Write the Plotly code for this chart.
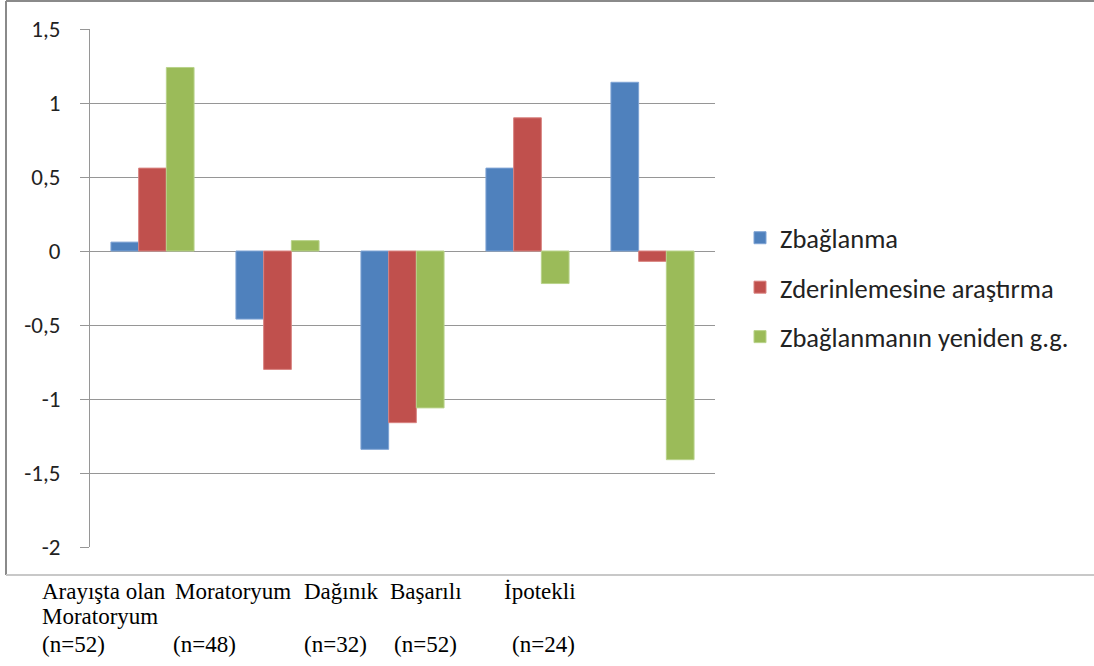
import plotly.graph_objects as go

# ---------------- data ----------------
categories = ["Arayışta olan Moratoryum", "Moratoryum", "Dağınık", "Başarılı", "İpotekli"]
category_display = ["Arayışta olan<br>Moratoryum", "Moratoryum", "Dağınık", "Başarılı", "İpotekli"]
sample_sizes = [52, 48, 32, 52, 24]

series_names = ["Zbağlanma", "Zderinlemesine araştırma", "Zbağlanmanın yeniden g.g."]
z_baglanma = [0.06, -0.46, -1.34, 0.56, 1.14]
z_derinlemesine = [0.56, -0.80, -1.16, 0.90, -0.07]
z_yeniden = [1.24, 0.07, -1.06, -0.22, -1.41]

y_tick_values = [1.5, 1, 0.5, 0, -0.5, -1, -1.5, -2]
y_tick_labels = ["1,5", "1", "0,5", "0", "-0,5", "-1", "-1,5", "-2"]

# ---------------- style / layout ----------------
W, H = 1094, 666
ML, MR, MT, MB = 90, 379, 29, 119
PW, PH = W - ML - MR, H - MT - MB

colors = ["#4F81BD", "#C0504D", "#9BBB59"]
edge_colors = ["#7EA3D4", "#D98380", "#B9D38A"]
grid_color = "#969696"
axis_font = "Carlito, Lato, 'Open Sans', sans-serif"
serif_font = "'Liberation Serif', 'Times New Roman', serif"


def px_x(px):
    return (px - ML) / PW


def px_y(py):
    return (H - MB - py) / PH


fig = go.Figure()
for name, vals, c, ec in zip(series_names, [z_baglanma, z_derinlemesine, z_yeniden], colors, edge_colors):
    fig.add_trace(go.Bar(
        x=categories, y=vals, name=name,
        marker=dict(color=c, line=dict(color=ec, width=1)),
        legendgroup=name,
    ))

fig.update_layout(
    width=W, height=H,
    margin=dict(l=ML, r=MR, t=MT, b=MB),
    paper_bgcolor="white", plot_bgcolor="white",
    barmode="group", bargap=0.335, bargroupgap=0,
    showlegend=True,
    legend=dict(
        xref="container", yref="container",
        x=740 / W, y=1 - 214 / H, xanchor="left", yanchor="top",
        font=dict(family=axis_font, size=26.5, color="#222222"),
        traceorder="grouped", tracegroupgap=12,
        bgcolor="rgba(0,0,0,0)",
    ),
    xaxis=dict(showticklabels=False, showgrid=False, zeroline=False,
               showline=False, ticks=""),
    yaxis=dict(
        range=[-2, 1.5], tickvals=y_tick_values, ticktext=y_tick_labels,
        showgrid=True, gridcolor=grid_color, gridwidth=1,
        zeroline=True, zerolinecolor=grid_color, zerolinewidth=1,
        showline=True, linecolor=grid_color, linewidth=1,
        ticks="outside", ticklen=9, tickcolor=grid_color,
        ticklabelstandoff=15,
        tickfont=dict(family=axis_font, size=23, color="#222222"),
    ),
)

# chart frame (left, top, bottom)
frame_x0, frame_y0, frame_y1 = 6, 1, 575
fig.add_shape(type="line", xref="paper", yref="paper",
              x0=px_x(frame_x0), x1=px_x(frame_x0), y0=px_y(frame_y0), y1=px_y(frame_y1),
              line=dict(color="#8a8a8a", width=2))
fig.add_shape(type="line", xref="paper", yref="paper",
              x0=px_x(frame_x0), x1=px_x(W), y0=px_y(frame_y0), y1=px_y(frame_y0),
              line=dict(color="#8a8a8a", width=2))
fig.add_shape(type="line", xref="paper", yref="paper",
              x0=px_x(frame_x0), x1=px_x(W), y0=px_y(frame_y1), y1=px_y(frame_y1),
              line=dict(color="#c8c8c8", width=2))

# category labels typed under the chart
label_x_px = [40, 173, 302, 388, 502]
n_x_px = [40, 171, 302, 392, 510]
line1_y, line_step, n_line_y = 591, 25, 644
for lab, lx in zip(category_display, label_x_px):
    for j, part in enumerate(lab.split("<br>")):
        fig.add_annotation(
            xref="paper", yref="paper", x=px_x(lx), y=px_y(line1_y + j * line_step),
            text=part, showarrow=False, xanchor="left", yanchor="middle", align="left",
            font=dict(family=serif_font, size=23, color="black"),
        )
for n, nx in zip(sample_sizes, n_x_px):
    fig.add_annotation(
        xref="paper", yref="paper", x=px_x(nx), y=px_y(n_line_y),
        text=f"(n={n})", showarrow=False, xanchor="left", yanchor="middle",
        font=dict(family=serif_font, size=23, color="black"),
    )

fig.write_html("out.html", config={"displayModeBar": False},
               post_script="document.body.style.margin='0';")
